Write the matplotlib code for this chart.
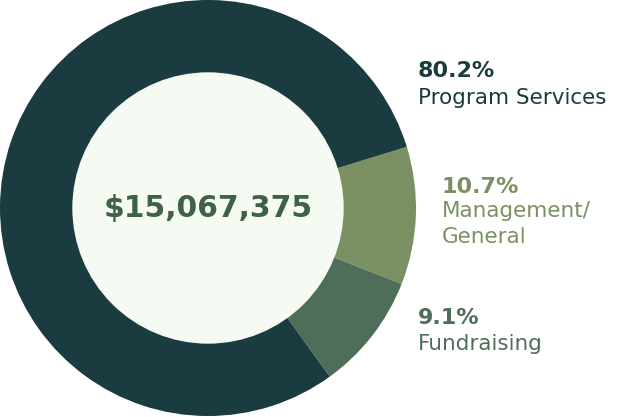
import matplotlib
matplotlib.use("Agg")
import matplotlib.pyplot as plt
from matplotlib.patches import Circle

categories = ["Management/\nGeneral", "Fundraising", "Program Services"]
shares = [10.7, 9.1, 80.2]
pct_labels = ["10.7%", "9.1%", "80.2%"]
total_label = "$15,067,375"

colors = ["#7a9062", "#4f6e5a", "#1a3b3f"]
W, H = 629, 417
fig = plt.figure(figsize=(W / 100, H / 100), dpi=100)
ax = fig.add_axes([0, 0, 1, 1])

cx, cy, R, r_in = 208, H - 208, 208, 135
ax.pie(shares, colors=colors, startangle=17.1, counterclock=False,
       center=(cx, cy), radius=R, frame=True,
       wedgeprops=dict(linewidth=0))
ax.add_patch(Circle((cx, cy), r_in, color="#f5faf3", zorder=3))
ax.set_xlim(0, W)
ax.set_ylim(0, H)
ax.axis("off")

ax.text(cx, H - 217, total_label, ha="center", va="baseline", fontsize=21.5,
        fontweight="bold", color="#3e6148", zorder=4)

# label positions (image pixel coords: x, baseline of pct, baseline of name lines)
pos = {
    "Program Services": (418, 77, [104]),
    "Management/\nGeneral": (442, 193, [217, 243]),
    "Fundraising": (418, 324, [350]),
}
for cat, pct, col in zip(categories, pct_labels, colors):
    x, yb1, ybs = pos[cat]
    ax.text(x, H - yb1, pct, ha="left", va="baseline", fontsize=16,
            fontweight="bold", color=col)
    for line, yb in zip(cat.split("\n"), ybs):
        ax.text(x, H - yb, line, ha="left", va="baseline", fontsize=15.5,
                color=col)

fig.savefig("out.png", dpi=100, facecolor="white")
